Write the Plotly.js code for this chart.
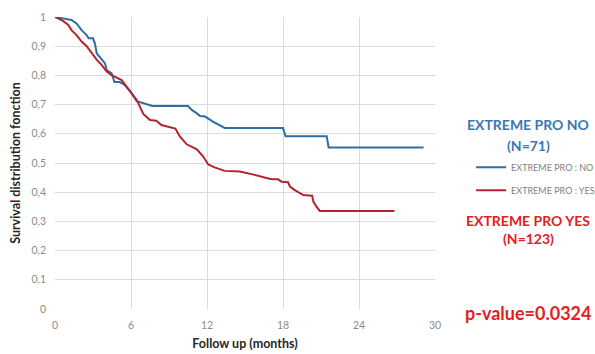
<!DOCTYPE html>
<html><head><meta charset="utf-8">
<script src="https://cdn.plot.ly/plotly-3.0.1.min.js"></script>
<style>html,body{margin:0;padding:0;background:#fff}#chart{width:595px;height:354px}</style>
</head><body><div id="chart"></div>
<script>
const noMonths = [0,1.3,1.7,2.1,2.5,2.65,3.0,3.15,3.3,3.68,3.95,4.08,4.47,4.7,5.1,5.5,6.0,6.45,7.7,10.5,10.8,11.2,11.45,11.85,12.5,13.4,18.0,18.2,21.45,21.6,29.1];
const noSurv = [1,0.99,0.978,0.955,0.938,0.927,0.927,0.91,0.875,0.853,0.841,0.818,0.807,0.777,0.777,0.768,0.742,0.712,0.695,0.695,0.682,0.67,0.661,0.659,0.641,0.62,0.62,0.592,0.592,0.553,0.553];
const yesMonths = [0,0.66,1.05,1.3,1.7,2.1,2.5,2.9,3.3,3.68,4.08,4.47,4.87,5.26,5.66,6.05,6.45,6.7,6.97,7.5,8.0,8.4,9.1,9.5,9.87,10.4,11.2,11.7,12.1,12.6,13.4,14.6,15.6,17.0,17.6,17.9,18.4,18.55,18.9,19.6,20.3,20.4,20.6,20.9,26.8];
const yesSurv = [1,0.986,0.973,0.955,0.938,0.916,0.9,0.876,0.853,0.836,0.813,0.801,0.793,0.784,0.761,0.739,0.716,0.693,0.668,0.647,0.645,0.63,0.624,0.618,0.59,0.564,0.547,0.522,0.495,0.485,0.473,0.471,0.461,0.445,0.444,0.436,0.434,0.419,0.408,0.39,0.388,0.368,0.353,0.336,0.336];
const xTicks = [0,6,12,18,24,30];
const yTicks = [0,0.1,0.2,0.3,0.4,0.5,0.6,0.7,0.8,0.9,1];
const seriesNames = ["EXTREME PRO : NO","EXTREME PRO : YES"];

const blue = "#2e6ea6", red = "#b3232b";
const traces = [
  {x: noMonths, y: noSurv, name: seriesNames[0], mode: "lines", line: {color: blue, width: 2}, legendgroup: "a"},
  {x: yesMonths, y: yesSurv, name: seriesNames[1], mode: "lines", line: {color: red, width: 2}, legendgroup: "b"}
];
const ann = (y, text, size, color) => ({xref: "paper", yref: "paper", x: 1.245, y: (309 - y) / 292, xanchor: "center", yanchor: "middle",
  text: "<b>" + text + "</b>", showarrow: false, font: {size: size, color: color}});
const layout = {
  width: 595, height: 354,
  margin: {l: 55, r: 160, t: 17, b: 45, autoexpand: false},
  paper_bgcolor: "#fff", plot_bgcolor: "#fff",
  separators: ", ",
  font: {family: "Lato, 'Open Sans', sans-serif", color: "#888"},
  xaxis: {range: [0, 30], tickvals: xTicks, ticktext: xTicks.map(String), showgrid: true, gridcolor: "#dcdcdc", gridwidth: 1,
    zeroline: false, showline: false, tickfont: {size: 10.5, color: "#8c8c8c"}, ticks: "", ticklabelstandoff: 8, automargin: false,
    title: {text: "Follow up (months)", font: {size: 12.5, color: "#262626", family: "Lato, sans-serif", weight: "bold"}, standoff: 9}},
  yaxis: {range: [0, 1], tickvals: yTicks, showgrid: true, gridcolor: "#dcdcdc", gridwidth: 1,
    zeroline: false, showline: false, tickfont: {size: 10.5, color: "#8c8c8c"}, ticks: "", tickformat: ".1~f", ticklabelstandoff: 8, automargin: false,
    title: {text: "Survival distribution fonction", font: {size: 12.5, color: "#262626", family: "Lato, sans-serif", weight: "bold"}, standoff: 8}},
  showlegend: true,
  legend: {x: 1.095, y: 0.535, xanchor: "left", yanchor: "top", traceorder: "grouped", tracegroupgap: 4,
    font: {size: 9, color: "#7f7f7f"}, bgcolor: "rgba(0,0,0,0)", itemwidth: 30},
  annotations: [
    ann(124, "EXTREME PRO NO", 14, "#3b78b1"),
    ann(145, "(N=71)", 14, "#3b78b1"),
    ann(220, "EXTREME PRO YES", 14, "#e3201f"),
    ann(238, "(N=123)", 14, "#e3201f"),
    ann(313, "p-value=0.0324", 18, "#e3201f")
  ]
};
Plotly.newPlot("chart", traces, layout, {displayModeBar: false, staticPlot: true});
</script></body></html>
